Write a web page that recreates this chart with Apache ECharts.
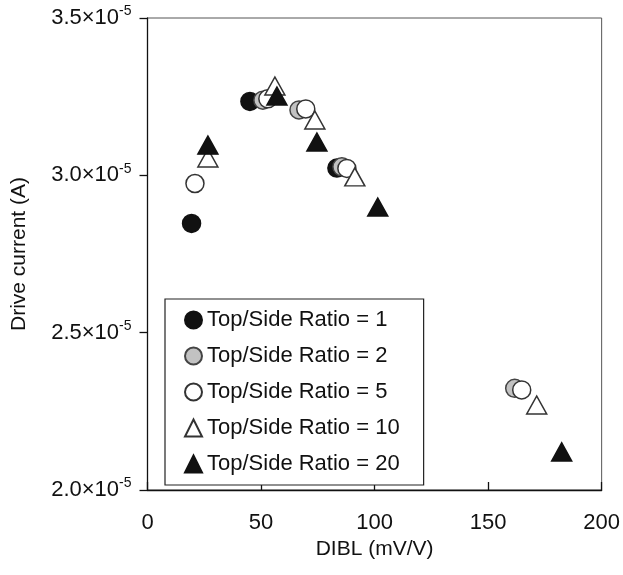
<!DOCTYPE html>
<html>
<head>
<meta charset="utf-8">
<script src="https://cdn.jsdelivr.net/npm/echarts@6/dist/echarts.min.js"></script>
<style>
  html, body { margin: 0; padding: 0; background: #fff; }
  #chart { width: 623px; height: 575px; }
</style>
</head>
<body>
<div id="chart"></div>
<script>
// drive current in units of 1e-5 A, DIBL in mV/V
const ratio1 = [[19.4, 2.847], [45.1, 3.235], [83.4, 3.023]];
const ratio2 = [[50.8, 3.239], [66.7, 3.208], [85.6, 3.027], [161.7, 2.323]];
const ratio5 = [[20.9, 2.974], [53.0, 3.243], [69.7, 3.211], [87.8, 3.022], [164.8, 2.318]];
const ratio10 = [[26.6, 3.055], [56.1, 3.284], [73.7, 3.176], [91.3, 2.995], [171.4, 2.270]];
const ratio20 = [[26.6, 3.096], [57.0, 3.252], [74.6, 3.106], [101.4, 2.899], [182.4, 2.121]];

const seriesNames = [
  "Top/Side Ratio = 1",
  "Top/Side Ratio = 2",
  "Top/Side Ratio = 5",
  "Top/Side Ratio = 10",
  "Top/Side Ratio = 20",
];

const font = "Liberation Sans, Arial, sans-serif";

const chart = echarts.init(document.getElementById("chart"));

function scatter(name, data, symbol, size, fill, border) {
  return {
    name,
    type: "scatter",
    data,
    symbol,
    symbolSize: size,
    itemStyle: { color: fill, borderColor: border, borderWidth: 1.5, opacity: 1 },
    emphasis: { disabled: true },
  };
}

chart.setOption({
  animation: false,
  textStyle: { fontFamily: font },
  grid: {
    left: 147.5,
    right: 20,
    top: 18,
    bottom: 85,
    show: true,
    borderColor: "#555",
    borderWidth: 1,
  },
  legend: {
    orient: "vertical",
    left: 165,
    top: 299,
    padding: [10, 24, 10, 19],
    itemGap: 14,
    itemWidth: 17,
    itemHeight: 17,
    borderColor: "#222",
    borderWidth: 1.2,
    backgroundColor: "#fff",
    textStyle: { fontSize: 22, color: "#111", fontFamily: font },
    data: seriesNames,
  },
  xAxis: {
    type: "value",
    min: 0,
    max: 200,
    interval: 50,
    name: "DIBL (mV/V)",
    nameLocation: "middle",
    nameGap: 46,
    nameTextStyle: { fontSize: 21, color: "#111" },
    axisLine: { lineStyle: { color: "#111", width: 1.3 } },
    axisTick: { inside: true, length: 8, lineStyle: { color: "#111", width: 1.3 } },
    axisLabel: { fontSize: 22, color: "#111", margin: 22 },
    splitLine: { show: false },
  },
  yAxis: {
    type: "value",
    min: 2,
    max: 3.5,
    interval: 0.5,
    name: "Drive current (A)",
    nameLocation: "middle",
    nameGap: 118,
    nameRotate: 90,
    nameTextStyle: { fontSize: 21, color: "#111" },
    axisLine: { lineStyle: { color: "#111", width: 1.3 } },
    axisTick: { length: 8, lineStyle: { color: "#111", width: 1.3 } },
    axisLabel: {
      margin: 16,
      formatter: (v) => "{b|" + v.toFixed(1) + "×10}{s|-5}",
      rich: {
        b: { fontSize: 22, color: "#111", fontFamily: font },
        s: { fontSize: 14, color: "#111", fontFamily: font, padding: [0, 0, 13, 0] },
      },
    },
    splitLine: { show: false },
  },
  series: [
    scatter(seriesNames[0], ratio1, "circle", 18, "#111", "#111"),
    scatter(seriesNames[1], ratio2, "circle", 18, "#c2c2c2", "#444"),
    scatter(seriesNames[2], ratio5, "circle", 18, "#fff", "#333"),
    scatter(seriesNames[3], ratio10, "triangle", [20, 18], "#fff", "#333"),
    scatter(seriesNames[4], ratio20, "triangle", [20, 18], "#111", "#111"),
  ],
});
</script>
</body>
</html>
